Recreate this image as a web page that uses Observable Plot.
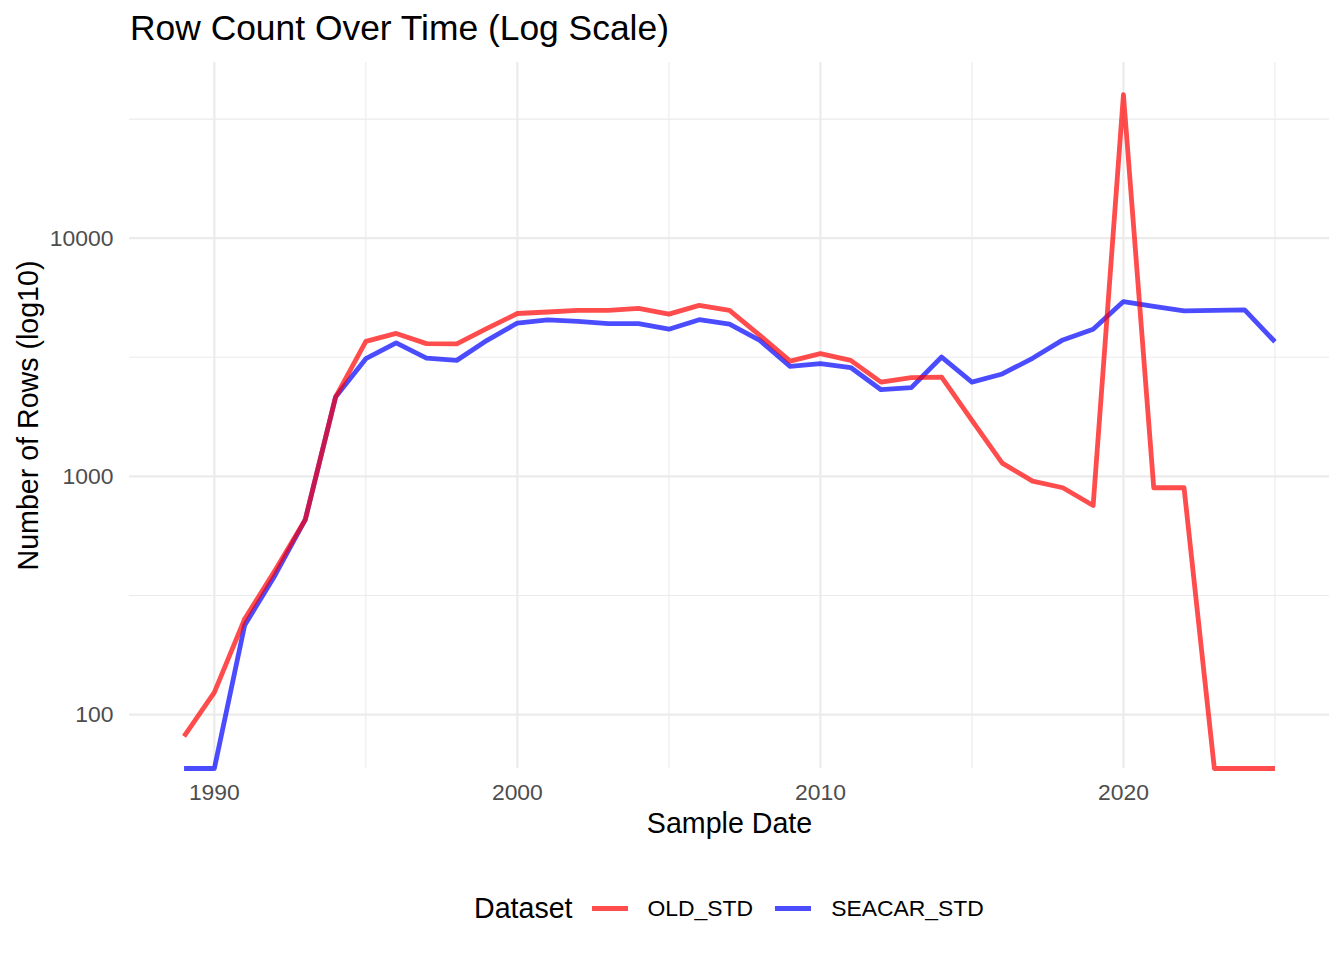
<!DOCTYPE html>
<html>
<head>
<meta charset="utf-8">
<script src="https://cdn.jsdelivr.net/npm/d3@7"></script>
<script src="https://cdn.jsdelivr.net/npm/@observablehq/plot@0.6"></script>
<style>
  body { margin: 0; background: #ffffff; font-family: "Liberation Sans", Arial, Helvetica, sans-serif; }
  #wrap { position: relative; width: 1344px; height: 960px; overflow: hidden; }
  #title { position: absolute; left: 130px; top: 0; height: 56px; line-height: 56px; font-size: 35.4px; color: #000; white-space: nowrap; }
  #chart { position: absolute; left: 0; top: 56px; }
  #legend { position: absolute; left: 474px; top: 888px; height: 40px; display: flex; align-items: center; white-space: nowrap; color: #000; }
  #legend .ltitle { font-size: 28.6px; margin-right: 19px; }
  #legend .sw { width: 36px; height: 5px; margin-right: 20px; }
  #legend .lab { font-size: 22.9px; margin-right: 22px; }
</style>
</head>
<body>
<div id="wrap">
  <div id="title">Row Count Over Time (Log Scale)</div>
  <div id="chart"></div>
  <div id="legend"></div>
</div>
<script>
// ---- data ----
const years = [1989, 1990, 1991, 1992, 1993, 1994, 1995, 1996, 1997, 1998,
               1999, 2000, 2001, 2002, 2003, 2004, 2005, 2006, 2007, 2008,
               2009, 2010, 2011, 2012, 2013, 2014, 2015, 2016, 2017, 2018,
               2019, 2020, 2021, 2022, 2023, 2024, 2025];
const oldStd = [81, 124, 252, 403, 658, 2153, 3690, 3984, 3610, 3600,
                4180, 4830, 4900, 4980, 4980, 5070, 4800, 5225, 4980, 3910,
                3050, 3278, 3070, 2488, 2600, 2613, 1718, 1137, 955, 896,
                755, 40080, 896, 896, 0, 0, 0];
const seacarStd = [0, 0, 237, 384, 658, 2153, 3120, 3634, 3140, 3070,
                   3725, 4405, 4545, 4480, 4380, 4380, 4150, 4550, 4355, 3725,
                   2895, 2976, 2865, 2312, 2359, 3170, 2488, 2692, 3133, 3742,
                   4147, 5420, 5170, 4950, 4980, 5000, 3675];
const seriesNames = ["OLD_STD", "SEACAR_STD"];
const seriesColors = ["#FF0000", "#0000FF"];
const xTicks = [1990, 2000, 2010, 2020];
const yTicks = [100, 1000, 10000];
const titleText = "Row Count Over Time (Log Scale)";
const xLabel = "Sample Date";
const yLabel = "Number of Rows (log10)";
const legendTitle = "Dataset";

// ---- scales (ggplot-like 5% expansion) ----
const positive = oldStd.concat(seacarStd).filter(v => v > 0);
const lmin = Math.log10(d3.min(positive)), lmax = Math.log10(d3.max(positive));
const lpad = (lmax - lmin) * 0.05;
const yDomain = [Math.pow(10, lmin - lpad), Math.pow(10, lmax + lpad)];
const xpad = (d3.max(years) - d3.min(years)) * 0.05;
const xDomain = [d3.min(years) - xpad, d3.max(years) + xpad];

// zero counts (log10 = -Inf) sit on the panel's bottom edge, as in ggplot
const toRows = (vals, name) => years.map((yr, i) => ({
  year: yr, count: vals[i], yv: vals[i] > 0 ? vals[i] : yDomain[0], series: name
}));
const oldRows = toRows(oldStd, seriesNames[0]);
const seaRows = toRows(seacarStd, seriesNames[1]);

const xMinor = xTicks.map(t => t + 5).filter(t => t <= xDomain[1]);
const yMinor = yTicks.map(t => t / Math.sqrt(10)).concat([yTicks[yTicks.length - 1] * Math.sqrt(10)])
  .filter(t => t >= yDomain[0] && t <= yDomain[1]);

const gridColor = "#EBEBEB";
const fontFam = "'Liberation Sans', Arial, Helvetica, sans-serif";

const chart = Plot.plot({
  width: 1344,
  height: 800,
  marginLeft: 129,
  marginRight: 15,
  marginTop: 6,
  marginBottom: 88,
  style: { fontFamily: fontFam, fontSize: "22.9px", background: "#ffffff", overflow: "visible" },
  x: { domain: xDomain, label: null },
  y: { type: "log", domain: yDomain, label: null },
  marks: [
    Plot.ruleX(xMinor, { stroke: gridColor, strokeWidth: 1.1 }),
    Plot.ruleY(yMinor, { stroke: gridColor, strokeWidth: 1.1 }),
    Plot.ruleX(xTicks, { stroke: gridColor, strokeWidth: 2.2 }),
    Plot.ruleY(yTicks, { stroke: gridColor, strokeWidth: 2.2 }),
    Plot.axisX({ ticks: xTicks, tickSize: 0, tickPadding: 15, tickFormat: d => String(d), fill: "#4D4D4D", fontSize: 22.9, label: null }),
    Plot.axisY({ ticks: yTicks, tickSize: 0, tickPadding: 16, tickFormat: d => String(d), fill: "#4D4D4D", fontSize: 22.9, label: null }),
    Plot.line(seaRows, { x: "year", y: "yv", stroke: seriesColors[1], strokeOpacity: 0.7, strokeWidth: 4.8, strokeLinejoin: "round", strokeLinecap: "butt" }),
    Plot.line(oldRows, { x: "year", y: "yv", stroke: seriesColors[0], strokeOpacity: 0.7, strokeWidth: 4.8, strokeLinejoin: "round", strokeLinecap: "butt" }),
    Plot.text([xLabel], { frameAnchor: "bottom", dy: 55.5, lineAnchor: "middle", textAnchor: "middle", fontSize: 28.6, fill: "#000", text: d => d }),
    Plot.text([yLabel], { frameAnchor: "left", dx: -100.5, rotate: -90, lineAnchor: "middle", textAnchor: "middle", fontSize: 28.6, fill: "#000", text: d => d })
  ]
});
document.getElementById("chart").appendChild(chart);
document.getElementById("title").textContent = titleText;

// ---- legend ----
const leg = document.getElementById("legend");
const lt = document.createElement("span");
lt.className = "ltitle"; lt.textContent = legendTitle; leg.appendChild(lt);
seriesNames.forEach((name, i) => {
  const sw = document.createElement("span");
  sw.className = "sw";
  sw.style.background = seriesColors[i];
  sw.style.opacity = 0.7;
  leg.appendChild(sw);
  const lab = document.createElement("span");
  lab.className = "lab"; lab.textContent = name; leg.appendChild(lab);
});
</script>
</body>
</html>
